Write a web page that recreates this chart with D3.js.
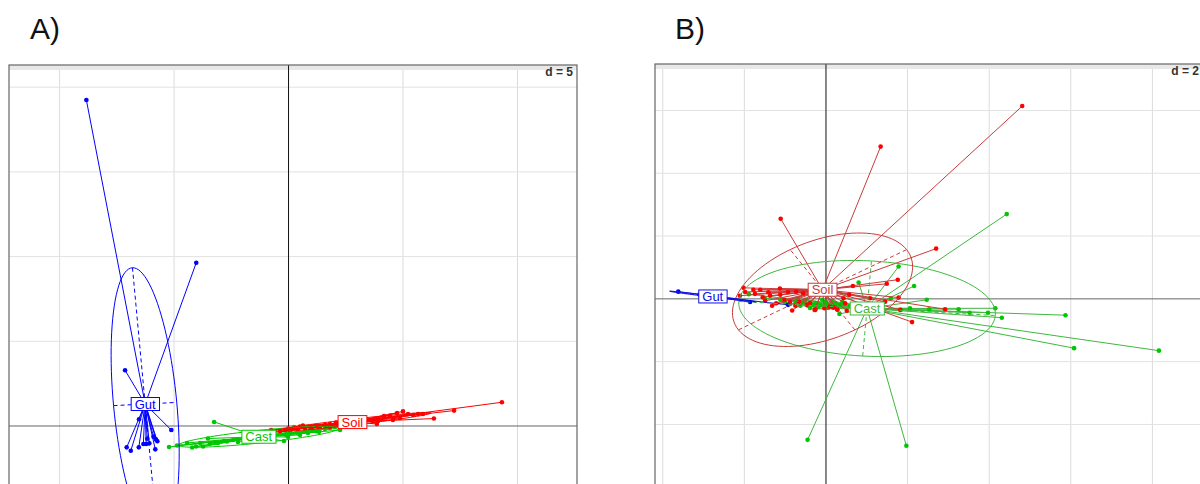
<!DOCTYPE html>
<html>
<head>
<meta charset="utf-8">
<script src="https://cdn.jsdelivr.net/npm/d3@7"></script>
<style>
  body { margin: 0; overflow: hidden; background: #fff; }
  svg { display: block; font-family: "Liberation Sans", Arial, sans-serif; }
</style>
</head>
<body>
<svg id="chart" width="1200" height="484"></svg>
<script>
// class names and colours (s.class style)
var classes = ["Cast", "Soil", "Gut"];
var classColors = ["#00c800", "#ff0000", "#0000ff"];
var mutedColors = ["#3fb83f", "#c83c3c", "#1010e0"];
var gridSteps = [5, 2];
var panelTitles = ["A)", "B)"];

// panel A scores (axis 1, axis 2)
var castA = [[-5.22,-1.24],[-4.87,-1.15],[-4.43,-1.00],[-4.21,-1.27],[-4.04,-1.21],[-3.86,-1.00],
  [-3.73,-1.21],[-3.52,-0.74],[-3.43,-1.03],[-3.21,-0.97],[-3.25,0.24],[-3.08,-1.00],[-2.82,-0.89],
  [-2.69,-0.91],[-2.42,-0.83],[-2.21,-0.94],[-0.20,-0.89],[-0.11,-0.53],[0.24,-0.06],[0.41,-0.41],
  [0.72,-0.30],[0.85,-0.41],[1.33,-0.35],[2.03,-0.06],[2.25,-0.24],[0.07,-0.35],[0.33,-0.18],
  [1.03,-0.24],[1.59,-0.18],[1.81,-0.12],[0.50,-0.53],[-0.02,-0.65],[1.20,-0.30]];
var soilA = [[-0.76,-0.24],[-0.02,-0.15],[0.28,-0.12],[0.50,-0.03],[0.63,0.03],[1.38,-0.03],
  [2.07,0.21],[3.12,0.30],[3.69,0.27],[3.86,0.12],[3.91,0.30],[4.17,0.59],[4.43,0.62],[4.56,0.35],
  [4.74,0.77],[4.87,0.47],[5.00,0.86],[5.22,0.71],[5.44,0.65],[5.66,0.71],[5.87,0.71],[6.35,0.44],
  [7.23,0.91],[9.32,1.40],[0.94,-0.06],[1.16,0.00],[1.59,0.06],[1.81,0.12],[2.25,0.12],[2.47,0.18],
  [2.69,0.18],[2.90,0.24],[3.34,0.24],[1.81,-0.06],[1.03,-0.12],[-0.15,-0.24],[-0.37,-0.30],
  [0.15,-0.18],[0.41,-0.18],[0.72,-0.12],[1.29,-0.06],[1.64,0.00]];
var gutA = [[-8.83,19.24],[-4.03,9.64],[-7.14,3.29],[-5.12,-0.24],[-6.53,0.40],[-7.07,-1.26],
  [-6.89,-1.46],[-6.54,-1.26],[-6.22,-1.06],[-6.08,-1.02],[-5.79,-0.79],[-5.73,-0.90],[-5.82,-1.38],
  [-5.90,-0.63],[-6.17,-0.75],[-6.34,-1.06]];

// panel B scores
var castB = [[4.43,2.70],[8.16,-1.65],[6.08,-1.57],[5.87,-0.52],[4.31,-0.60],[4.15,-0.30],[3.97,-0.44],
  [3.52,-0.44],[3.25,-0.33],[2.47,-0.03],[2.16,0.41],[1.78,1.03],[0.80,0.52],[-0.45,-4.49],[1.97,-4.68],
  [2.53,-0.33],[2.06,-0.30],[1.83,-0.35],[1.59,0.02],[1.08,-0.28],[0.33,-0.48],[0.00,0.45],[-1.89,0.15],
  [-1.50,0.02],[-0.47,-0.17],[0.27,-0.25],[-0.26,-0.13],[-0.14,-0.19],[-0.02,-0.10],[0.10,-0.22],
  [0.23,-0.13],[0.35,-0.19],[0.47,-0.16],[0.59,-0.22],[-0.19,-0.25],[0.05,-0.29],[-0.34,-0.19],
  [-0.09,-0.03],[0.15,-0.06],[0.40,-0.10],[-0.75,-0.10],[-0.63,-0.22],[-0.51,-0.03],[-0.39,-0.29],
  [-0.88,-0.16],[-0.56,-0.13],[-0.26,-0.32],[-0.68,0.00],[-0.44,-0.22],[0.00,-0.16],[-1.12,-0.03],
  [-1.00,-0.13]];
var soilB = [[4.81,6.14],[1.34,4.85],[-1.11,2.55],[2.70,1.60],[1.76,0.61],[1.78,0.04],[2.11,-0.74],
  [1.49,0.48],[0.66,0.41],[-2.02,0.35],[-2.11,0.10],[-1.13,0.33],[-1.41,0.21],[-1.55,0.05],[-1.22,-0.14],
  [-0.83,-0.37],[-0.28,-0.35],[-0.04,-0.30],[0.28,-0.35],[2.92,-0.33],[-0.73,0.23],[-0.56,0.18],
  [0.57,0.13],[1.08,0.02],[1.45,-0.09],[-1.02,-0.03],[-0.66,-0.09],[-0.47,-0.19],[0.09,-0.25],
  [0.47,-0.14],[-1.78,0.29],[-0.88,-0.09],[-0.26,-0.35],[0.18,-0.28],[0.51,-0.38],[0.43,0.02],
  [1.82,-0.35],[0.27,-0.32],[-1.98,0.22],[-1.74,0.16],[-1.61,0.29],[-1.37,0.10],[-1.12,0.13],
  [-0.93,0.22],[-1.49,-0.06],[-1.32,-0.22],[-0.75,-0.22],[-0.39,-0.13]];
var gutB = [[-3.62,0.23],[-1.86,-0.10],[-0.93,-0.19],[-3.05,0.12],[-3.00,0.10],[-3.10,0.14],
  [-2.95,0.09],[-3.03,0.12],[-2.98,0.11],[-3.08,0.13],[-2.92,0.09]];

var svg = d3.select("#chart");
var defs = svg.append("defs");

function ellipseOf(pts) {
  var n = pts.length;
  var mx = d3.mean(pts, d => d[0]), my = d3.mean(pts, d => d[1]);
  var vx = d3.sum(pts, d => (d[0]-mx)*(d[0]-mx)) / n;
  var vy = d3.sum(pts, d => (d[1]-my)*(d[1]-my)) / n;
  var cxy = d3.sum(pts, d => (d[0]-mx)*(d[1]-my)) / n;
  var tr = vx + vy, det = vx*vy - cxy*cxy;
  var disc = Math.sqrt(Math.max(tr*tr/4 - det, 0));
  var l1 = tr/2 + disc, l2 = Math.max(tr/2 - disc, 0);
  var v1;
  if (Math.abs(cxy) > 1e-12) v1 = [l1 - vy, cxy];
  else v1 = vx >= vy ? [1, 0] : [0, 1];
  var len = Math.hypot(v1[0], v1[1]);
  v1 = [v1[0]/len, v1[1]/len];
  var v2 = [-v1[1], v1[0]];
  return {mx: mx, my: my, a: 1.5*Math.sqrt(l1), b: 1.5*Math.sqrt(l2), v1: v1, v2: v2};
}

function drawPanel(p, idx) {
  var x = d3.scaleLinear().domain(p.xDom).range([p.left, p.right]);
  var y = d3.scaleLinear().domain(p.yDom).range([p.bottom, p.top]);
  var step = gridSteps[idx];

  defs.append("clipPath").attr("id", "clip" + idx)
    .append("rect").attr("x", p.left).attr("y", p.top)
    .attr("width", p.right - p.left).attr("height", p.bottom - p.top);

  svg.append("text")
    .attr("x", p.titleX).attr("y", 39)
    .style("font-size", "30px").style("fill", "#111")
    .text(panelTitles[idx]);

  var g = svg.append("g").attr("clip-path", "url(#clip" + idx + ")");

  var xt = d3.range(Math.ceil(p.xDom[0]/step), Math.floor(p.xDom[1]/step) + 1).map(k => k*step);
  var yt = d3.range(Math.ceil(p.yDom[0]/step), Math.floor(p.yDom[1]/step) + 1).map(k => k*step);

  g.selectAll(".gx").data(xt.filter(v => v !== 0)).enter().append("line")
    .attr("x1", d => x(d)).attr("x2", d => x(d))
    .attr("y1", p.top).attr("y2", p.bottom)
    .attr("stroke", "#dcdcdc").attr("stroke-width", 1);
  g.selectAll(".gy").data(yt.filter(v => v !== 0)).enter().append("line")
    .attr("y1", d => y(d)).attr("y2", d => y(d))
    .attr("x1", p.left).attr("x2", p.right)
    .attr("stroke", "#e2e2e2").attr("stroke-width", 1);

  // faint shade under the top border
  g.append("rect").attr("x", p.left).attr("y", p.top)
    .attr("width", p.right - p.left).attr("height", 5)
    .attr("fill", "#e8e8e8");

  g.append("line").attr("x1", p.left).attr("x2", p.right)
    .attr("y1", y(0)).attr("y2", y(0)).attr("stroke", "#666").attr("stroke-width", 1);
  g.append("line").attr("y1", p.top).attr("y2", p.bottom)
    .attr("x1", x(0)).attr("x2", x(0)).attr("stroke", "#111").attr("stroke-width", 1);

  var groups = p.groups.map(function(pts, i) {
    return {name: classes[i], color: classColors[i], line: p.lineColors[i],
            pts: pts, ell: ellipseOf(pts)};
  });

  // stars and points
  groups.forEach(function(gr) {
    g.append("g").selectAll("line").data(gr.pts).enter().append("line")
      .attr("x1", x(gr.ell.mx)).attr("y1", y(gr.ell.my))
      .attr("x2", d => x(d[0])).attr("y2", d => y(d[1]))
      .attr("stroke", gr.line).attr("stroke-width", 1);
    g.append("g").selectAll("circle").data(gr.pts).enter().append("circle")
      .attr("cx", d => x(d[0])).attr("cy", d => y(d[1]))
      .attr("r", 2.3).attr("fill", gr.color);
  });

  // ellipses with their axes
  var line = d3.line().x(d => x(d[0])).y(d => y(d[1]));
  groups.forEach(function(gr) {
    var e = gr.ell;
    var ring = d3.range(0, 101).map(function(k) {
      var t = 2 * Math.PI * k / 100;
      return [e.mx + e.a*Math.cos(t)*e.v1[0] + e.b*Math.sin(t)*e.v2[0],
              e.my + e.a*Math.cos(t)*e.v1[1] + e.b*Math.sin(t)*e.v2[1]];
    });
    g.append("path").attr("d", line(ring)).attr("fill", "none")
      .attr("stroke", gr.line).attr("stroke-width", 1);
    [[e.a, e.v1], [e.b, e.v2]].forEach(function(ax) {
      g.append("path")
        .attr("d", line([[e.mx - ax[0]*ax[1][0], e.my - ax[0]*ax[1][1]],
                         [e.mx + ax[0]*ax[1][0], e.my + ax[0]*ax[1][1]]]))
        .attr("stroke", gr.line).attr("stroke-width", 1)
        .attr("stroke-dasharray", "4,3");
    });
  });

  // class labels in boxes
  groups.forEach(function(gr) {
    var lg = g.append("g");
    var t = lg.append("text")
      .attr("x", x(gr.ell.mx)).attr("y", y(gr.ell.my) + 4.5)
      .attr("text-anchor", "middle")
      .style("font-size", "13px").style("fill", gr.line)
      .text(gr.name);
    var bb = t.node().getBBox();
    lg.insert("rect", "text")
      .attr("x", bb.x - 3.5).attr("y", y(gr.ell.my) - 6.5)
      .attr("width", bb.width + 7).attr("height", 13)
      .attr("fill", "#fff").attr("stroke", gr.line).attr("stroke-width", 1);
  });

  g.append("text")
    .attr("x", p.right - 4).attr("y", p.top + 11)
    .attr("text-anchor", "end")
    .style("font-size", "12px").style("font-weight", "bold").style("fill", "#333")
    .text("d = " + step);

  svg.append("rect")
    .attr("x", p.left).attr("y", p.top)
    .attr("width", p.right - p.left).attr("height", p.bottom - p.top)
    .attr("fill", "none").attr("stroke", "#666").attr("stroke-width", 1.2);
}

drawPanel({left: 9, right: 577, top: 65, bottom: 540, titleX: 30,
  xDom: [-12.21, 12.6], yDom: [-6.73, 21.31],
  groups: [castA, soilA, gutA], lineColors: classColors}, 0);

drawPanel({left: 655, right: 1203, top: 64, bottom: 540, titleX: 675,
  xDom: [-4.19, 9.24], yDom: [-7.68, 7.48],
  groups: [castB, soilB, gutB], lineColors: mutedColors}, 1);
</script>
</body>
</html>
